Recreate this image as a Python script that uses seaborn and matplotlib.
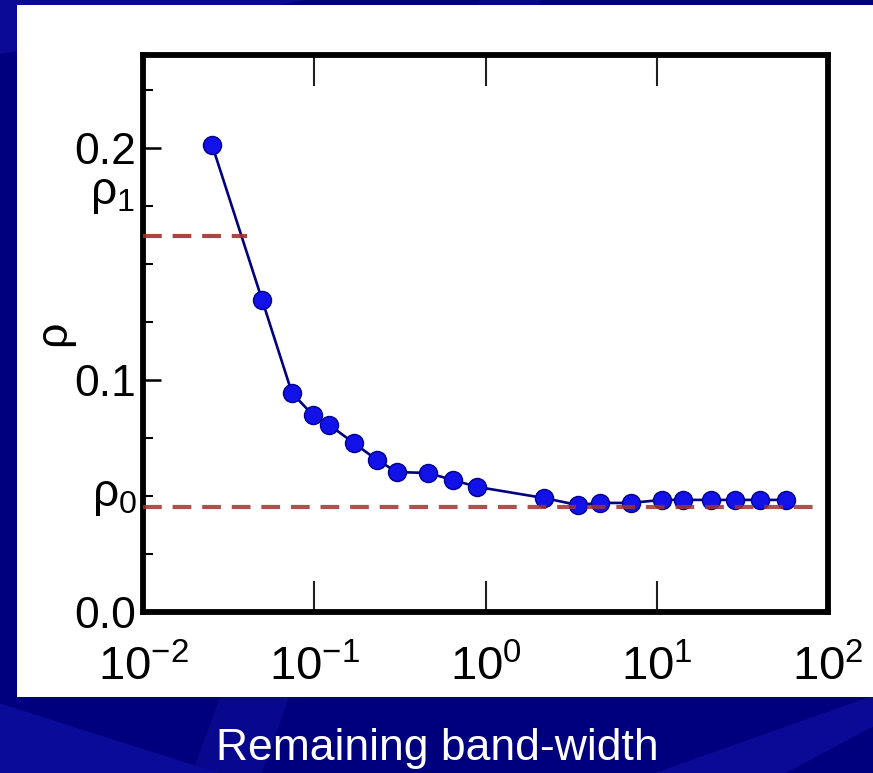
import matplotlib
matplotlib.use("Agg")
import matplotlib.pyplot as plt
import matplotlib.ticker as mticker
from matplotlib.patches import Rectangle, Polygon
from matplotlib import font_manager
import seaborn as sns
import pandas as pd

# ---------------- data ----------------
bandwidth = [0.0253, 0.0496, 0.0741, 0.098, 0.1224, 0.1704, 0.2325, 0.3046,
             0.461, 0.644, 0.895, 2.20, 3.46, 4.64, 7.05, 10.7, 14.2, 20.8,
             28.6, 40.0, 56.9]
rho = [0.2013, 0.1345, 0.0944, 0.0849, 0.0806, 0.0728, 0.0655, 0.0603,
       0.0599, 0.0569, 0.0539, 0.0491, 0.0461, 0.0470, 0.0470, 0.0483,
       0.0483, 0.0483, 0.0483, 0.0483, 0.0483]
rho0 = 0.0453
rho1 = 0.162
rho1_line_end = 0.0405
rho0_line_end = 88.6
x_ticks = [1e-2, 1e-1, 1e0, 1e1, 1e2]
y_ticks = [0.0, 0.1, 0.2]
x_title = "Remaining band-width"
y_title = "ρ"
rho1_label = r"$\mathdefault{ρ_1}$"
rho0_label = r"$\mathdefault{ρ_0}$"

# ---------------- fonts ----------------
names = {f.name for f in font_manager.fontManager.ttflist}
narrow = "Liberation Sans Narrow" if "Liberation Sans Narrow" in names else "Liberation Sans"
plt.rcParams["font.family"] = [narrow, "DejaVu Sans"]
plt.rcParams["mathtext.fontset"] = "custom"
plt.rcParams["mathtext.rm"] = narrow
plt.rcParams["axes.unicode_minus"] = False

W, H = 873, 773
fig = plt.figure(figsize=(W / 100, H / 100), dpi=100)
fig.patch.set_facecolor("#00007f")

# slide background streaks
for pts, c in [
    ([(0.0, 0.93), (0.0, 1.0), (0.35, 1.0)], "#0a0a96"),
    ([(0.55, 1.0), (0.62, 1.0), (0.30, 0.0), (0.22, 0.0)], "#08088f"),
    ([(0.0, 0.0), (0.0, 0.09), (0.25, 0.0)], "#0b0b9a"),
    ([(0.75, 0.0), (0.9, 0.0), (1.0, 0.06), (1.0, 0.1)], "#0a0a96"),
]:
    fig.patches.append(Polygon(pts, closed=True, transform=fig.transFigure,
                               facecolor=c, edgecolor="none", zorder=-2))

# white panel
fig.patches.append(Rectangle((17 / W, 1 - 697 / H), 1 - 17 / W, (697 - 5) / H,
                             transform=fig.transFigure, facecolor="white",
                             edgecolor="none", zorder=-1))

ax = fig.add_axes([143 / W, 1 - 612 / H, 685 / W, 557 / H])
ax.set_facecolor("white")

df = pd.DataFrame({"bandwidth": bandwidth, "rho": rho})
sns.lineplot(data=df, x="bandwidth", y="rho", ax=ax, color="#000080",
             linewidth=1.9, marker="o", markersize=13,
             markerfacecolor="#1212e8", markeredgecolor="#000090",
             markeredgewidth=1.0, zorder=3)

# reference levels
dash = (0, (4.5, 2.6))
ax.plot([x_ticks[0], rho1_line_end], [rho1, rho1], ls=dash, lw=3,
        color="#a3302f", alpha=0.9, zorder=4)
ax.plot([x_ticks[0], rho0_line_end], [rho0, rho0], ls=dash, lw=3,
        color="#a3302f", alpha=0.85, zorder=4)

ax.set_xscale("log")
ax.set_xlim(x_ticks[0], x_ticks[-1])
ax.set_ylim(0, 0.24)
ax.xaxis.set_major_locator(mticker.FixedLocator(x_ticks))
ax.xaxis.set_major_formatter(mticker.LogFormatterSciNotation())
ax.xaxis.set_minor_locator(mticker.NullLocator())
ax.yaxis.set_major_locator(mticker.FixedLocator(y_ticks))
ax.yaxis.set_major_formatter(mticker.FormatStrFormatter("%.1f"))
ax.yaxis.set_minor_locator(mticker.MultipleLocator(0.025))

ax.tick_params(axis="x", which="major", direction="in", length=22, width=1.5,
               top=True, bottom=True, labelsize=34, pad=24, color="#202020")
ax.tick_params(axis="y", which="major", direction="in", length=13, width=1.8,
               left=True, right=False, labelsize=32, pad=5)
ax.tick_params(axis="y", which="minor", direction="in", length=7, width=1.5,
               left=True, right=False)

for s in ax.spines.values():
    s.set_linewidth(4.2)
    s.set_color("black")

ax.set_xlabel("")
ax.set_ylabel(y_title, fontsize=32, rotation=90)
ax.yaxis.label.set_verticalalignment("center")
ax.yaxis.set_label_coords((54 - 143) / 685, (612 - 333) / 557)

trans = matplotlib.transforms.blended_transform_factory(ax.transAxes, ax.transData)
ax.text(-0.012, 0.180, rho1_label, transform=trans, ha="right", va="center",
        fontsize=33, clip_on=False)
ax.text(-0.009, 0.050, rho0_label, transform=trans, ha="right", va="center",
        fontsize=33, clip_on=False)

fig.text(437 / W, 13 / H, x_title, color="white", fontsize=32,
         ha="center", va="baseline", family=["Liberation Sans", "DejaVu Sans"])

fig.savefig("out.png", dpi=100, facecolor=fig.get_facecolor())
